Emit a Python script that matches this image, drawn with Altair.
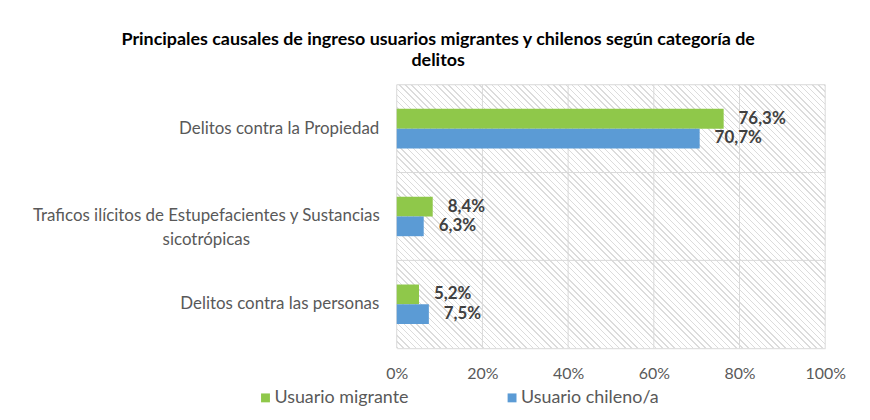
import altair as alt
import pandas as pd

# ---- data ----
categorias = [
    "Delitos contra la Propiedad",
    "Traficos ilícitos de Estupefacientes y Sustancias sicotrópicas",
    "Delitos contra las personas",
]
series = ["Usuario migrante", "Usuario chileno/a"]
migrante = [76.3, 8.4, 5.2]
chileno = [70.7, 6.3, 7.5]
x_ticks = [0, 20, 40, 60, 80, 100]

rows = []
for c, m, ch in zip(categorias, migrante, chileno):
    for s, v in zip(series, [m, ch]):
        rows.append({"categoria": c, "serie": s, "valor": v,
                     "etiqueta": f"{v:.1f}".replace(".", ",") + "%"})
df = pd.DataFrame(rows)
ticks_df = pd.DataFrame({"t": x_ticks})
cat_df = pd.DataFrame({"categoria": categorias})

# ---- style ----
W, H = 431, 265
FONT = "Lato"
GREEN = "#8fc84a"
BLUE = "#5b9bd5"
GRID = "#d9d9d9"
TEXT = "#595959"

# diagonal hatch as a striped linear gradient (stripes at 45 degrees)
s = (W + H) / (W * W + H * H)
stops = []
spacing, thick = 6.2, 1.5
HATCH = "#dcdcdc"
k = 0
while k * spacing < W + H:
    a = k * spacing / (W + H)
    b = min((k * spacing + thick) / (W + H), 1.0)
    c = min(((k + 1) * spacing) / (W + H), 1.0)
    stops += [{"offset": a, "color": HATCH}, {"offset": b, "color": HATCH},
              {"offset": b, "color": "#ffffff"}, {"offset": c, "color": "#ffffff"}]
    k += 1
hatch = {"gradient": "linear", "x1": 0, "y1": 1, "x2": s * W, "y2": 1 - s * H,
         "stops": stops}

bar_y_scale = alt.Scale(domain=categorias, paddingInner=0.55, paddingOuter=0.275)
sep_y_scale = alt.Scale(domain=categorias, paddingInner=0, paddingOuter=0)
x_scale = alt.Scale(domain=[0, 100], nice=False)
off_scale = alt.Scale(domain=series, paddingInner=0, paddingOuter=0)

two_line = categorias[1]
test = f"datum.value == '{two_line}'"
label_expr = (f"{test} ? ['Traficos ilícitos de Estupefacientes y Sustancias', "
              "'sicotrópicas'] : datum.value")

bg = alt.Chart(alt.InlineData(values=[{"k": 1}])).mark_rect(color=hatch, strokeWidth=0).encode(
    x=alt.value(0), x2=alt.value("width"), y=alt.value(0), y2=alt.value("height"))

vgrid = alt.Chart(ticks_df).mark_rule(color=GRID, strokeWidth=1).encode(
    x=alt.X("t:Q", scale=x_scale))

hgrid = alt.Chart(cat_df).mark_rule(color=GRID, strokeWidth=1).encode(
    y=alt.Y("categoria:N", scale=sep_y_scale, bandPosition=0, axis=None))

bars = alt.Chart(df).mark_bar().encode(
    x=alt.X("valor:Q", scale=x_scale,
            axis=alt.Axis(values=x_ticks, labelExpr="datum.value + '%'", title=None,
                          grid=False, ticks=False, domain=True, domainColor=GRID,
                          zindex=1, labelColor=TEXT, labelFontSize=16, labelFont=FONT,
                          labelPadding=17, labelFlush=False)),
    y=alt.Y("categoria:N", scale=bar_y_scale,
            axis=alt.Axis(title=None, ticks=False, domain=False, grid=False,
                          labelExpr=label_expr, labelLimit=0, labelColor=TEXT,
                          labelFontSize=17, labelFont=FONT,
                          labelAlign={"condition": {"test": test, "value": "center"},
                                      "value": "right"},
                          labelPadding={"condition": {"test": test, "value": 192},
                                        "value": 18},
                          labelLineHeight=24, minExtent=380, maxExtent=380)),
    yOffset=alt.YOffset("serie:N", sort=series, scale=off_scale),
    color=alt.Color("serie:N", sort=series,
                    scale=alt.Scale(domain=series, range=[GREEN, BLUE]),
                    legend=alt.Legend(title=None, orient="none", direction="horizontal",
                                      legendX=-141, legendY=306,
                                      symbolType="square", symbolSize=80,
                                      symbolStrokeWidth=0, labelFontSize=18,
                                      labelOffset=0,
                                      labelFont=FONT, labelColor=TEXT,
                                      columnPadding=95)),
)

labels = alt.Chart(df).mark_text(align="left", baseline="middle", dx=15, fontSize=17,
                                 fontWeight="bold", font=FONT, color="#404040").encode(
    x=alt.X("valor:Q", scale=x_scale),
    y=alt.Y("categoria:N", scale=bar_y_scale, axis=None),
    yOffset=alt.YOffset("serie:N", sort=series, scale=off_scale),
    text="etiqueta:N",
)

chart = alt.layer(bg, vgrid, hgrid, bars, labels).resolve_scale(y="independent").properties(
    width=W, height=H,
    title=alt.TitleParams(
        text=["Principales causales de ingreso usuarios migrantes y chilenos según categoría de",
              "delitos"],
        font=FONT, fontSize=18, fontWeight="bold", color="#000000",
        anchor="middle", frame="bounds", offset=14, lineHeight=21, dx=6),
    padding={"left": 11, "top": 22, "right": 16, "bottom": 0},
).configure_view(stroke=None)

chart.save("out.html", embed_options={"renderer": "svg", "actions": False})
